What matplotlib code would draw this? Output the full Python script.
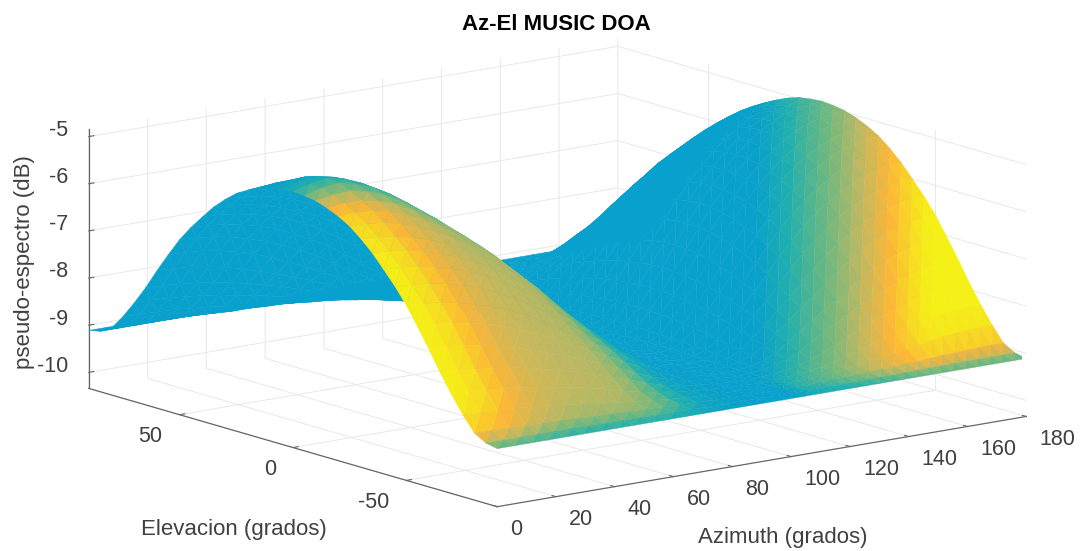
import numpy as np
import matplotlib
matplotlib.use("Agg")
import matplotlib.pyplot as plt
from matplotlib.colors import LinearSegmentedColormap

plt.rcParams['font.family'] = ['Liberation Sans', 'DejaVu Sans']
plt.rcParams['axes.unicode_minus'] = False

# rejilla de la superficie (grados); el valle no cae en 90 sino hacia 105
azimuth = np.array([0, 5.8, 11.7, 17.5, 23.3, 29.2, 35, 40.8, 46.7, 52.5, 58.3, 64.2, 70, 75.8, 81.7, 87.5, 93.3, 99.2, 105,
                    109.2, 113.3, 117.5, 121.7, 125.8, 130, 134.2, 138.3, 142.5, 146.7, 150.8, 155, 159.2, 163.3, 167.5, 171.7, 175.8, 180])
elevacion = np.arange(-90, 91, 5)

# pseudo-espectro (dB), un cuadrante:
# filas del pico de un lobulo al valle, columnas |elevacion| 0..90, cada 5 grados
z_cuadrante = np.array([
    [-4.91, -4.93, -4.97, -5.05, -5.16, -5.30, -5.50, -5.73, -6.01, -6.30, -6.63, -7.02, -7.43, -7.86, -8.25, -8.61, -8.92, -9.06, -9.11],
    [-4.93, -4.94, -4.99, -5.07, -5.18, -5.32, -5.52, -5.75, -6.02, -6.32, -6.65, -7.03, -7.44, -7.87, -8.25, -8.62, -8.92, -9.06, -9.11],
    [-4.97, -4.99, -5.04, -5.12, -5.22, -5.37, -5.57, -5.80, -6.07, -6.36, -6.69, -7.06, -7.47, -7.90, -8.27, -8.63, -8.93, -9.06, -9.11],
    [-5.05, -5.07, -5.12, -5.20, -5.30, -5.45, -5.65, -5.88, -6.14, -6.43, -6.76, -7.12, -7.53, -7.94, -8.30, -8.65, -8.94, -9.06, -9.11],
    [-5.16, -5.18, -5.22, -5.30, -5.42, -5.57, -5.76, -5.99, -6.24, -6.52, -6.86, -7.20, -7.60, -7.99, -8.34, -8.68, -8.95, -9.06, -9.11],
    [-5.30, -5.32, -5.37, -5.45, -5.57, -5.72, -5.91, -6.13, -6.37, -6.64, -6.97, -7.31, -7.70, -8.06, -8.39, -8.71, -8.96, -9.06, -9.11],
    [-5.50, -5.52, -5.57, -5.65, -5.76, -5.91, -6.09, -6.29, -6.52, -6.81, -7.11, -7.45, -7.81, -8.14, -8.46, -8.76, -8.98, -9.07, -9.11],
    [-5.73, -5.75, -5.80, -5.88, -5.99, -6.13, -6.29, -6.48, -6.72, -6.99, -7.28, -7.60, -7.93, -8.23, -8.52, -8.81, -9.00, -9.07, -9.11],
    [-6.01, -6.02, -6.07, -6.14, -6.24, -6.37, -6.52, -6.72, -6.95, -7.19, -7.47, -7.77, -8.06, -8.33, -8.60, -8.86, -9.00, -9.08, -9.11],
    [-6.30, -6.32, -6.36, -6.43, -6.52, -6.64, -6.81, -6.99, -7.19, -7.43, -7.69, -7.95, -8.19, -8.45, -8.68, -8.90, -9.02, -9.08, -9.11],
    [-6.63, -6.65, -6.69, -6.76, -6.86, -6.97, -7.11, -7.28, -7.47, -7.69, -7.91, -8.12, -8.34, -8.56, -8.78, -8.94, -9.03, -9.09, -9.11],
    [-7.02, -7.03, -7.06, -7.12, -7.20, -7.31, -7.45, -7.60, -7.77, -7.95, -8.12, -8.31, -8.49, -8.68, -8.87, -8.98, -9.05, -9.09, -9.11],
    [-7.43, -7.44, -7.47, -7.53, -7.60, -7.70, -7.81, -7.93, -8.06, -8.19, -8.34, -8.49, -8.65, -8.81, -8.93, -9.01, -9.06, -9.09, -9.11],
    [-7.86, -7.87, -7.90, -7.94, -7.99, -8.06, -8.14, -8.23, -8.33, -8.45, -8.56, -8.68, -8.81, -8.91, -8.99, -9.04, -9.07, -9.10, -9.11],
    [-8.25, -8.25, -8.27, -8.30, -8.34, -8.39, -8.46, -8.52, -8.60, -8.68, -8.78, -8.87, -8.93, -8.99, -9.03, -9.06, -9.08, -9.10, -9.11],
    [-8.61, -8.62, -8.63, -8.65, -8.68, -8.71, -8.76, -8.81, -8.86, -8.90, -8.94, -8.98, -9.01, -9.04, -9.06, -9.08, -9.09, -9.10, -9.11],
    [-8.92, -8.92, -8.93, -8.94, -8.95, -8.96, -8.98, -9.00, -9.00, -9.02, -9.03, -9.05, -9.06, -9.07, -9.08, -9.09, -9.10, -9.10, -9.11],
    [-9.06, -9.06, -9.06, -9.06, -9.06, -9.06, -9.07, -9.07, -9.08, -9.08, -9.09, -9.09, -9.09, -9.10, -9.10, -9.10, -9.10, -9.11, -9.11],
    [-9.11, -9.11, -9.11, -9.11, -9.11, -9.11, -9.11, -9.11, -9.11, -9.11, -9.11, -9.11, -9.11, -9.11, -9.11, -9.11, -9.11, -9.11, -9.11],
])

# el primer lobulo llega algo mas alto cerca de su cima (dB)
extra_az = [0, 0.12, 0.22, 0.22, 0.18, 0.12, 0.07, 0.03, 0, 0, 0, 0, 0, 0, 0, 0, 0, 0, 0]
extra_el = [0, 0, 0, 0, 0, 0, 0, 0, 0, 0, 0, 0, 0, 0.1, 0.3, 0.5, 0.75, 0.95, 1,
            0.95, 0.8, 0.6, 0.4, 0.2, 0.1, 0, 0, 0, 0, 0, 0, 0, 0, 0, 0, 0, 0]

# nivel de color del primer lobulo, por fila del cuadrante y por elevacion -90..90
color_az = [1.0, 0.97, 0.9, 0.8, 0.72, 0.66, 0.62, 0.6, 0.59, 0.58,
            0.55, 0.45, 0.3, 0.12, 0.04, 0.02, 0.0, 0.0, 0.0]
color_el = [0.32, 0.55, 0.85, 0.95, 1, 1, 1, 1, 1, 1, 1, 0.98, 0.96, 0.93, 0.88, 0.75, 0.55,
            0.38, 0.22, 0.1, 0.03, 0, 0, 0, 0, 0, 0, 0, 0, 0, 0, 0, 0, 0, 0, 0, 0]
# el segundo lobulo cambia de color casi en vertical en la imagen
rampa_dist = [0, 100, 137, 165, 190, 230, 270]
rampa_color = [1, 1, 0.8, 0.6, 0.45, 0.25, 0]

az_ticks = list(range(0, 181, 20))
el_ticks = [-50, 0, 50]
z_ticks = [-10, -9, -8, -7, -6, -5]

# la superficie es simetrica: se completa con el cuadrante espejado
z_filas = np.hstack([z_cuadrante[:, :0:-1], z_cuadrante])
Z = np.vstack([z_filas, z_filas[-2::-1]])
Z[:19] += np.outer(extra_az, extra_el)
X, Y = np.meshgrid(azimuth, elevacion, indexing='ij')

mapa = LinearSegmentedColormap.from_list(
    'parula_parcial', ['#08A0CC', '#20AFAE', '#6DB880', '#C0B860', '#FBB638', '#F5F015'])
C = np.outer(color_az + [0] * 18, color_el)
borde = np.array(color_el[:4] + [1] * 33)
C_der = np.interp(2.94 * (180 - X) + 2.27 * (Y + 90), rampa_dist, rampa_color) * borde
C[19:] = C_der[19:]

# cada celda en dos triangulos, con la diagonal a lo largo de las franjas de color
n_az, n_el = X.shape
ii = np.arange(n_az * n_el).reshape(n_az, n_el)
a, b, c, d = ii[:-1, :-1].ravel(), ii[1:, :-1].ravel(), ii[1:, 1:].ravel(), ii[:-1, 1:].ravel()
triangulos = np.vstack([np.column_stack([a, b, c]), np.column_stack([a, c, d])])
colores = mapa(C.ravel()[triangulos].mean(axis=1))

W, H = 1081, 551
fig = plt.figure(figsize=(W / 100, H / 100), dpi=100)
lado = 954
ax = fig.add_axes([67.6 / W, -211.4 / H, lado / W, lado / H], projection='3d', proj_type='ortho')
ax.view_init(elev=12.84, azim=-127.5)
ax.set_box_aspect((668, 672, 267))
ax.set_xlim(0, 180, view_margin=0)
ax.set_ylim(-90, 90, view_margin=0)
ax.set_zlim(-10.34, -4.83, view_margin=0)

sup = ax.plot_trisurf(X.ravel(), Y.ravel(), Z.ravel(), triangles=triangulos, linewidth=0.3, shade=False)
sup.set_facecolor(colores)
sup.set_edgecolor(colores)

ax.set_xticks(az_ticks)
ax.set_yticks(el_ticks)
ax.set_zticks(z_ticks)
for eje in (ax.xaxis, ax.yaxis, ax.zaxis):
    eje.set_pane_color((1, 1, 1, 0))
    eje.pane.set_edgecolor((1, 1, 1, 0))
    eje.line.set_color('#666666')
    eje.line.set_linewidth(0.9)
    eje._axinfo['grid'].update(color='#e8e8e8', linewidth=0.7)
    eje._axinfo['tick'].update(inward_factor=0, outward_factor=0.12)
ax.tick_params(axis='both', labelsize=15.5, labelcolor='#404040', color='#666666', width=0.8)
ax.tick_params(axis='z', pad=0)

for t in ax.xaxis.get_ticklabels():
    t.set_ha('left')
for t in ax.yaxis.get_ticklabels():
    t.set_ha('right')
for t in ax.zaxis.get_ticklabels():
    t.set_ha('right')
    t.set_va('baseline')

fig.text(556 / W, 1 - 24 / H, 'Az-El MUSIC DOA', fontsize=16, fontweight='bold', ha='center', va='center', color='black')
fig.text(783 / W, 1 - 537 / H, 'Azimuth (grados)', fontsize=16, ha='center', va='center', color='#404040')
fig.text(234 / W, 1 - 530 / H, 'Elevacion (grados)', fontsize=16, ha='center', va='center', color='#404040')
fig.text(25 / W, 1 - 262 / H, 'pseudo-espectro (dB)', fontsize=16, rotation=90, ha='center', va='center', color='#404040')

fig.savefig('out.png', dpi=100)
